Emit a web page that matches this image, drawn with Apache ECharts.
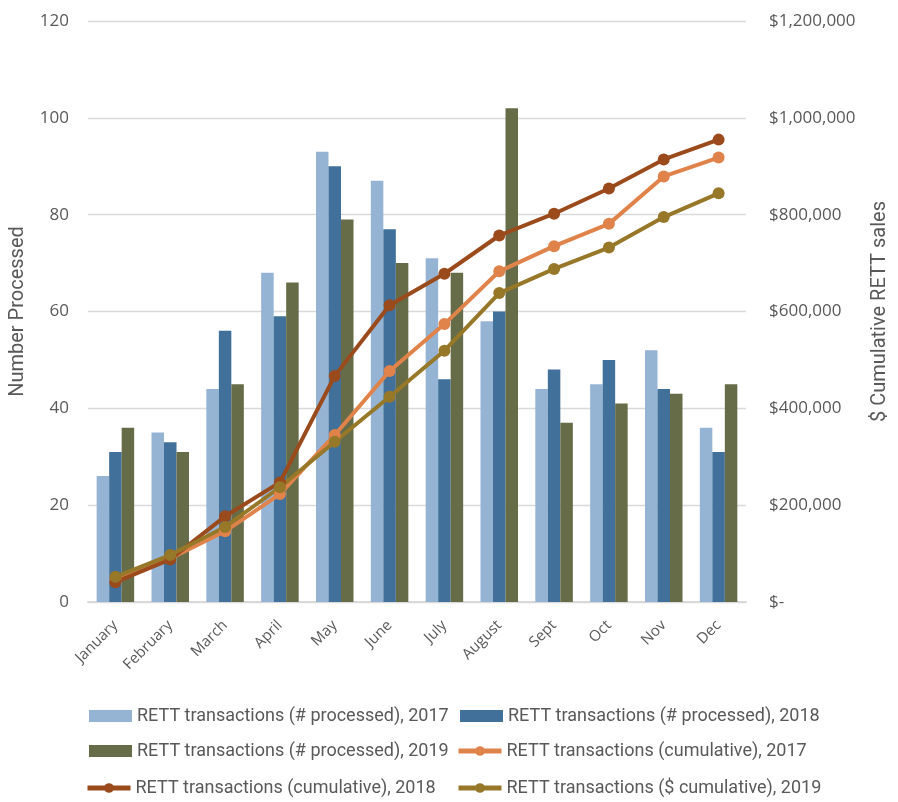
<!DOCTYPE html>
<html>
<head>
<meta charset="utf-8">
<script src="https://cdn.jsdelivr.net/npm/echarts@6/dist/echarts.min.js"></script>
<style>
  html, body { margin: 0; padding: 0; background: #fff; }
  #chart { width: 898px; height: 802px; }
</style>
</head>
<body>
<div id="chart"></div>
<script>
// Months on the category axis
const months = ['January', 'February', 'March', 'April', 'May', 'June', 'July', 'August', 'Sept', 'Oct', 'Nov', 'Dec'];

// Monthly count of transactions processed (left axis)
const processed2017 = [26, 35, 44, 68, 93, 87, 71, 58, 44, 45, 52, 36];
const processed2018 = [31, 33, 56, 59, 90, 77, 46, 60, 48, 50, 44, 31];
const processed2019 = [36, 31, 45, 66, 79, 70, 68, 102, 37, 41, 43, 45];

// Cumulative sales in dollars (right axis)
const cumulative2017 = [46000, 90000, 146000, 223000, 345000, 477000, 574000, 683000, 735000, 781000, 879000, 918000];
const cumulative2018 = [41000, 88000, 177000, 247000, 467000, 613000, 678000, 757000, 802000, 854000, 914000, 955000];
const cumulative2019 = [52000, 97000, 155000, 237000, 331000, 424000, 519000, 638000, 688000, 732000, 795000, 844000];

// Axis ranges
const countMax = 120, countStep = 20;
const dollarMax = 1200000, dollarStep = 200000;

const names = {
  p17: 'RETT transactions (# processed), 2017',
  p18: 'RETT transactions (# processed), 2018',
  p19: 'RETT transactions (# processed), 2019',
  c17: 'RETT transactions (cumulative), 2017',
  c18: 'RETT transactions (cumulative), 2018',
  c19: 'RETT transactions ($ cumulative), 2019'
};

const colors = {
  p17: '#95B3D3', p18: '#41709A', p19: '#666C47',
  c17: '#E0834A', c18: '#9B4A1C', c19: '#977829'
};

const textGray = '#595959';
const gridGray = '#D9D9D9';
const tickFont = "'Open Sans', 'Noto Sans', sans-serif";
const nameFont = "Roboto, 'Liberation Sans', sans-serif";

function dollars(v) {
  if (v === 0) return '$-';
  return '$' + v.toString().replace(/\B(?=(\d{3})+(?!\d))/g, ',');
}

function barSeries(key, data) {
  return {
    name: names[key], type: 'bar', yAxisIndex: 0, data: data,
    barWidth: 12.5, barGap: '0%',
    itemStyle: { color: colors[key] },
    emphasis: { disabled: true }
  };
}

function lineSeries(key, data) {
  return {
    name: names[key], type: 'line', yAxisIndex: 1, data: data,
    symbol: 'circle', symbolSize: 12, showSymbol: true,
    lineStyle: { width: 4, color: colors[key] },
    itemStyle: { color: colors[key] },
    emphasis: { disabled: true },
    z: 5
  };
}

// One legend entry per slot, laid out as a two-column, three-row block
const legendSlots = [
  ['p17', 89, 716, 'bar'], ['p18', 460, 716, 'bar'],
  ['p19', 89, 751, 'bar'], ['c17', 456, 751, 'line'],
  ['c18', 85, 788, 'line'], ['c19', 456, 788, 'line']
];
const legends = legendSlots.map(function (s) {
  const entry = { name: names[s[0]] };
  if (s[3] === 'bar') entry.icon = 'rect';
  return {
    data: [entry],
    left: s[1], top: s[2] - 10, padding: 0,
    itemWidth: 43, itemHeight: 12, itemGap: 0,
    lineStyle: { width: 5 },
    textStyle: { fontFamily: nameFont, fontSize: 18, color: textGray, lineHeight: 20 },
    selectedMode: false
  };
});

const chart = echarts.init(document.getElementById('chart'), null, { renderer: 'canvas' });
chart.setOption({
  animation: false,
  grid: { left: 87, right: 148, top: 21, bottom: 200, containLabel: false },
  legend: legends,
  xAxis: {
    type: 'category', data: months,
    axisLine: { lineStyle: { color: gridGray, width: 2 } },
    axisTick: { show: false },
    axisLabel: {
      rotate: 45, margin: 21, interval: 0,
      color: textGray, fontFamily: tickFont, fontSize: 15
    }
  },
  yAxis: [
    {
      type: 'value', min: 0, max: countMax, interval: countStep,
      name: 'Number Processed', nameLocation: 'middle', nameGap: 60, nameRotate: 90,
      nameTextStyle: { color: textGray, fontFamily: nameFont, fontSize: 20 },
      axisLine: { show: false }, axisTick: { show: false },
      axisLabel: { color: textGray, fontFamily: tickFont, fontSize: 17, margin: 19 },
      splitLine: { lineStyle: { color: gridGray, width: 1.3 } }
    },
    {
      type: 'value', min: 0, max: dollarMax, interval: dollarStep,
      name: '$ Cumulative RETT sales', nameLocation: 'middle', nameGap: 124, nameRotate: 90,
      nameTextStyle: { color: textGray, fontFamily: nameFont, fontSize: 20 },
      axisLine: { show: false }, axisTick: { show: false },
      axisLabel: { color: textGray, fontFamily: tickFont, fontSize: 17, margin: 23, formatter: dollars },
      splitLine: { show: false }
    }
  ],
  series: [
    barSeries('p17', processed2017),
    barSeries('p18', processed2018),
    barSeries('p19', processed2019),
    lineSeries('c17', cumulative2017),
    lineSeries('c18', cumulative2018),
    lineSeries('c19', cumulative2019)
  ]
});
</script>
</body>
</html>
